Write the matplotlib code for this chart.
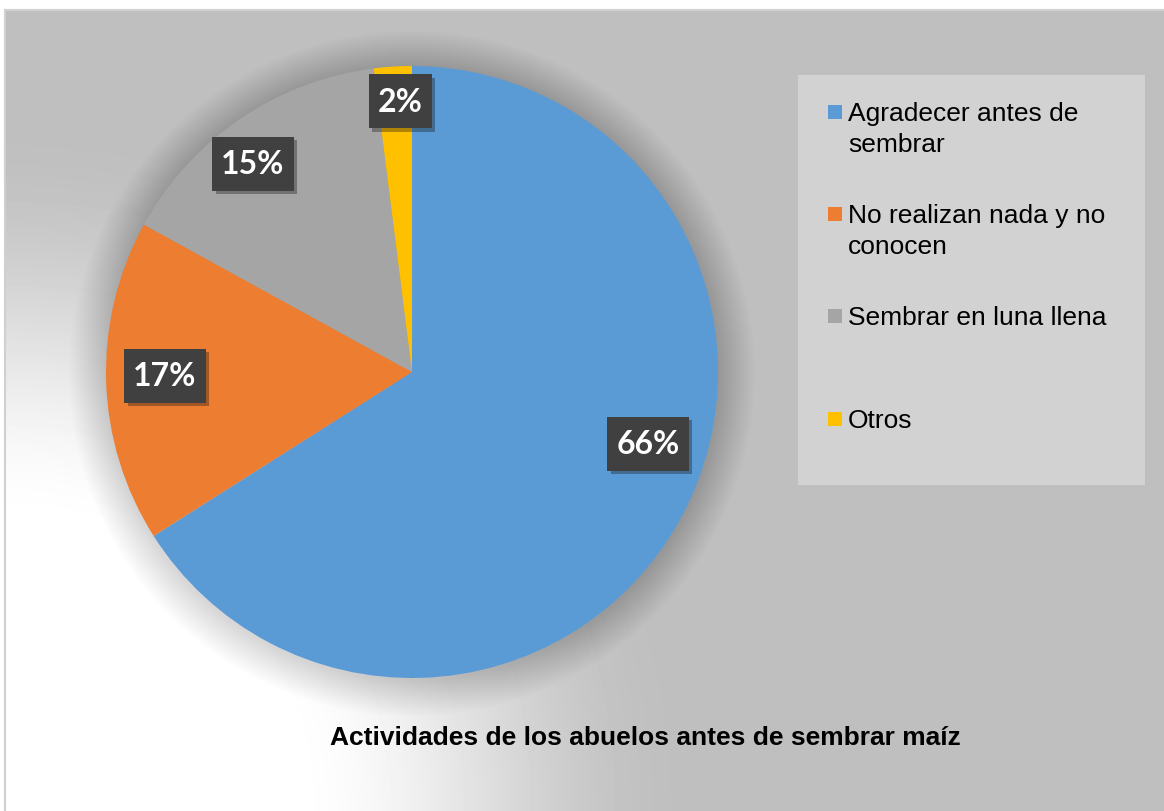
import numpy as np
import matplotlib
matplotlib.use("Agg")
import matplotlib.pyplot as plt
from matplotlib.patches import Rectangle, Circle
from matplotlib import patheffects

# datos del gráfico
categorias = ["Agradecer antes de\nsembrar", "No realizan nada y no\nconocen",
              "Sembrar en luna llena", "Otros"]
valores = [66, 17, 15, 2]
colores = ["#5B9BD5", "#ED7D31", "#A5A5A5", "#FFC000"]
titulo = "Actividades de los abuelos antes de sembrar maíz"

# posiciones de las etiquetas (en unidades del radio)
pos_etiquetas = [(0.771, -0.235), (-0.807, -0.013), (-0.520, 0.680), (-0.039, 0.884)]

W, H = 1164, 812
fig = plt.figure(figsize=(W / 100, H / 100), dpi=100)
fig.patch.set_facecolor("white")

# fondo con degradado radial (blanco abajo a la izquierda, gris en el resto)
bg = fig.add_axes([5 / W, 0, 1 - 5 / W, 1 - 11 / H])
bg.set_zorder(0)
yy, xx = np.mgrid[11:H, 5:W]
dist = np.sqrt((xx - 5) ** 2 + (H - yy) ** 2)
t = np.clip((680 - dist) / 400.0, 0, 1)
t = t * t * (3 - 2 * t)
gris = 191 / 255
img = gris + (1 - gris) * t
bg.imshow(img, cmap="gray", vmin=0, vmax=1, aspect="auto",
          extent=(5, W, H, 11), interpolation="bilinear")
bg.set_xticks([])
bg.set_yticks([])
for s in ["right", "bottom"]:
    bg.spines[s].set_visible(False)
for s in ["left", "top"]:
    bg.spines[s].set_color("#d0d0d0")
    bg.spines[s].set_linewidth(1.5)

# gráfico circular
cx, cy, r = 412, 373, 306
ax = fig.add_axes([(cx - r) / W, (H - cy - r) / H, 2 * r / W, 2 * r / H])
ax.set_zorder(1)
ax.patch.set_alpha(0)

# sombra suave alrededor del círculo
n = 20
for i in range(n):
    ax.add_patch(Circle((0.0, -0.005), 1 + 0.006 * (n - i), color="black",
                        alpha=0.008, lw=0, zorder=0, clip_on=False))

ax.pie(valores, colors=colores, startangle=90, counterclock=False, radius=1,
       wedgeprops=dict(linewidth=0, zorder=2))
ax.set_xlim(-1, 1)
ax.set_ylim(-1, 1)
ax.set_aspect("equal")
ax.axis("off")

# etiquetas de porcentaje con caja oscura
textos = []
for v, (px, py) in zip(valores, pos_etiquetas):
    txt = ax.text(px, py, f"{v}%", ha="center", va="center", color="white",
                  fontsize=23, fontweight="bold", family="Lato", zorder=6)
    textos.append(txt)

fig.canvas.draw()
rend = fig.canvas.get_renderer()
u = 1.0 / r  # un pixel en unidades del radio
for txt, (px, py) in zip(textos, pos_etiquetas):
    ancho = txt.get_window_extent(rend).width * u + 18 * u
    alto = 54 * u
    caja = Rectangle((px - ancho / 2, py - alto / 2), ancho, alto,
                     facecolor="#404040", edgecolor="none", zorder=5)
    caja.set_path_effects([patheffects.withSimplePatchShadow(offset=(2.5, -2.5), alpha=0.35),
                           patheffects.Normal()])
    ax.add_patch(caja)

# capa superior: leyenda y título en pixeles
ov = fig.add_axes([0, 0, 1, 1])
ov.set_zorder(2)
ov.patch.set_alpha(0)
ov.set_xlim(0, W)
ov.set_ylim(H, 0)
ov.axis("off")

ov.add_patch(Rectangle((798, 76), 347, 410, facecolor="#d2d2d2", edgecolor="none"))
centros = [113, 215, 317, 420]
for cat, col, yc in zip(categorias, colores, centros):
    ov.add_patch(Rectangle((828, yc - 7), 14, 14, facecolor=col, edgecolor="none"))
    for j, linea in enumerate(cat.split("\n")):
        ov.text(848, yc + 8 + 31 * j, linea, ha="left", va="baseline", fontsize=19,
                family="Liberation Sans", color="black")

ov.text(645, 738, titulo, ha="center", va="center", fontsize=19,
        fontweight="bold", family="Liberation Sans", color="black")

fig.savefig("out.png", dpi=100, facecolor=fig.get_facecolor())
